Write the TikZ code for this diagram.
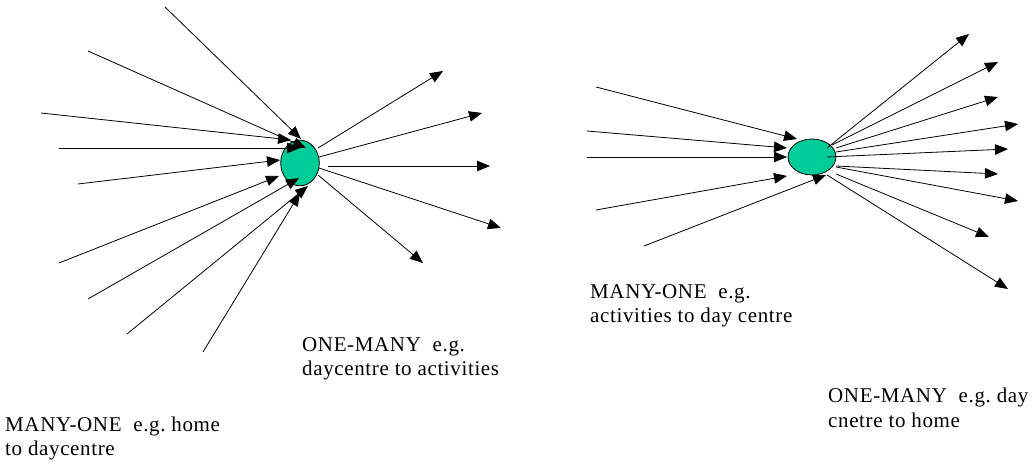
\documentclass[tikz,border=0pt]{standalone}
\usepackage{fontspec}
\setmainfont{Liberation Serif}
\newfontfamily\lblfont{Liberation Serif}[LetterSpace=3]
\usetikzlibrary{arrows.meta,shapes.geometric}
\definecolor{hub}{RGB}{0,204,153}
\tikzset{
 hubnode/.style={ellipse, draw=black, line width=0.8bp, fill=hub, inner sep=0pt},
 link/.style={line width=0.8bp, -{Triangle[length=13bp,width=10.5bp]}},
 lbl/.style={anchor=base west, align=left, inner sep=0pt, font=\lblfont\fontsize{21bp}{24.3bp}\selectfont}
}
\begin{document}
\frenchspacing
\begin{tikzpicture}[x=1bp,y=-1bp]
\useasboundingbox (0,0) rectangle (1032,462);
% hubs
\node[hubnode, minimum width=38.6bp, minimum height=45.6bp] (L) at (300,163) {};
\node[hubnode, minimum width=48bp, minimum height=36bp] (R) at (812,157) {};
% left: many to one
\foreach \i/\sx/\sy/\ex/\ey in {1/165/7/301/139, 2/88/51/306/148, 3/41/113/291/140, 4/59/148/300/148, 5/78/184/280/160, 6/59/263/279/176, 7/88/299/299/178, 8/127/334/308/186, 9/203/352/300/193}{
  \coordinate (li\i) at (\sx,\sy);
  \coordinate (lo\i) at (\ex,\ey);
  \draw[link] (li\i) -- (lo\i);
}
% left: one to many
\foreach \i/\sx/\sy/\ex/\ey in {1/318/148/443/71, 2/319/157/482/113, 3/328/166/490/166, 4/319/168/501/228, 5/318/175/423/263}{
  \coordinate (ls\i) at (\sx,\sy);
  \coordinate (lt\i) at (\ex,\ey);
  \draw[link] (ls\i) -- (lt\i);
}
% right: many to one
\foreach \i/\sx/\sy/\ex/\ey in {1/596/87/797/139, 2/587/131/787/148, 3/587/157/787/157, 4/596/210/787/176, 5/644/246/826/175}{
  \coordinate (ri\i) at (\sx,\sy);
  \coordinate (ro\i) at (\ex,\ey);
  \draw[link] (ri\i) -- (ro\i);
}
% right: one to many
\foreach \i/\sx/\sy/\ex/\ey in {1/827/148/969/34, 2/832/145/998/62, 3/836/148/998/97, 4/836/152/1018/124, 5/827/157/1008/149, 6/836/166/998/174, 7/836/167/1018/201, 8/836/174/989/237, 9/827/175/1008/289}{
  \coordinate (rs\i) at (\sx,\sy);
  \coordinate (rt\i) at (\ex,\ey);
  \draw[link] (rs\i) -- (rt\i);
}
% labels (anchored at the baseline of the last line)
\node[lbl] (t1) at (302,376) {ONE-MANY~ e.g.\\daycentre to activities};
\node[lbl] (t2) at (5,455.5) {MANY-ONE~ e.g. home\\to daycentre};
\node[lbl] (t3) at (590,322.5) {MANY-ONE~ e.g.\\activities to day centre};
\node[lbl] (t4) at (828,427) {ONE-MANY~ e.g. day\\cnetre to home};
\end{tikzpicture}
\end{document}
